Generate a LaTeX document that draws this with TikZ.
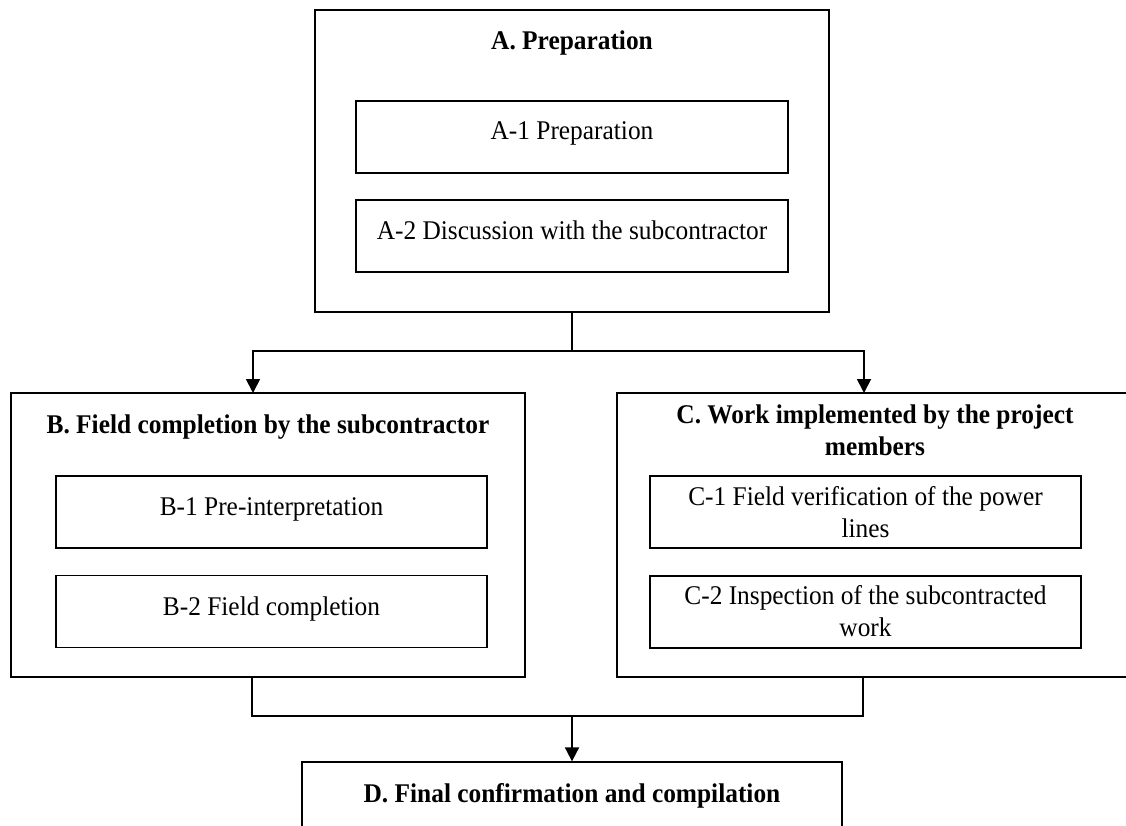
\documentclass[tikz,border=0pt]{standalone}
\usepackage{fontspec}
\setmainfont[FakeStretch=0.94]{Liberation Serif}
\usetikzlibrary{arrows.meta,calc}

\tikzset{
  frame/.style={draw=black, line width=1.3pt, rectangle, inner sep=0pt},
  outerbox/.style={frame, minimum width=514pt, minimum height=284pt},
  innerbox/.style={frame, minimum width=431pt, minimum height=72pt},
  txt/.style={font=\fontsize{27}{31.5}\selectfont, inner sep=0pt, align=center, anchor=base},
  title/.style={txt, font=\fontsize{27}{32}\selectfont\bfseries},
  conn/.style={draw=black, line width=1.8pt},
  arr/.style={conn, -{Triangle[width=14pt,length=14pt]}},
}

\begin{document}
\begin{tikzpicture}[x=1pt, y=-1pt]
  \useasboundingbox (0,0) rectangle (1126,825);
  \clip (0,0) rectangle (1126,825);

  % A. Preparation
  \node[frame, minimum width=514pt, minimum height=302pt] (a) at (572,161) {};
  \node[title] (at) at (572,49) {A. Preparation};
  \node[innerbox, minimum width=432pt] (a1) at (572,137) {};
  \node[txt] (a1t) at (572,139) {A-1 Preparation};
  \node[innerbox, minimum width=432pt] (a2) at (572,236) {};
  \node[txt] (a2t) at (572,239) {A-2 Discussion with the subcontractor};

  % B. Field completion by the subcontractor
  \node[outerbox] (b) at (268,535) {};
  \node[title] (bt) at (268,433) {B. Field completion by the subcontractor};
  \node[innerbox] (b1) at (271.5,512) {};
  \node[txt] (b1t) at (271.5,515) {B-1 Pre-interpretation};
  \node[innerbox] (b2) at (271.5,611.5) {};
  \node[txt] (b2t) at (271.5,615) {B-2 Field completion};

  % C. Work implemented by the project members
  % (two-line labels sit on the baseline of their last line)
  \node[outerbox] (c) at (874,535) {};
  \node[title] (ct) at (875,455) {C. Work implemented by the project\\members};
  \node[innerbox] (c1) at (865.5,512) {};
  \node[txt] (c1t) at (865.5,537) {C-1 Field verification of the power\\lines};
  \node[innerbox] (c2) at (865.5,612) {};
  \node[txt] (c2t) at (865.5,636) {C-2 Inspection of the subcontracted\\work};

  % D. Final confirmation and compilation (runs past the lower edge)
  \node[frame, minimum width=540pt, minimum height=100pt] (d) at (572,812) {};
  \node[title] (dt) at (572,802) {D. Final confirmation and compilation};

  % split from A into B and C
  \path (a.south) ++(0,38) coordinate (splitA);
  \coordinate (bIn) at (253,393);
  \coordinate (cIn) at (864,393);
  \draw[conn] (a.south) -- (splitA);
  \draw[arr] (splitA) -| (bIn);
  \draw[arr] (splitA) -| (cIn);

  % merge from B and C into D
  \coordinate (bOut) at (252,677);
  \coordinate (cOut) at (863,677);
  \path (d.north) ++(0,-45) coordinate (joinD);
  \draw[conn] (bOut) |- (joinD) -| (cOut);
  \draw[arr] (joinD) -- (d.north);
\end{tikzpicture}
\end{document}
